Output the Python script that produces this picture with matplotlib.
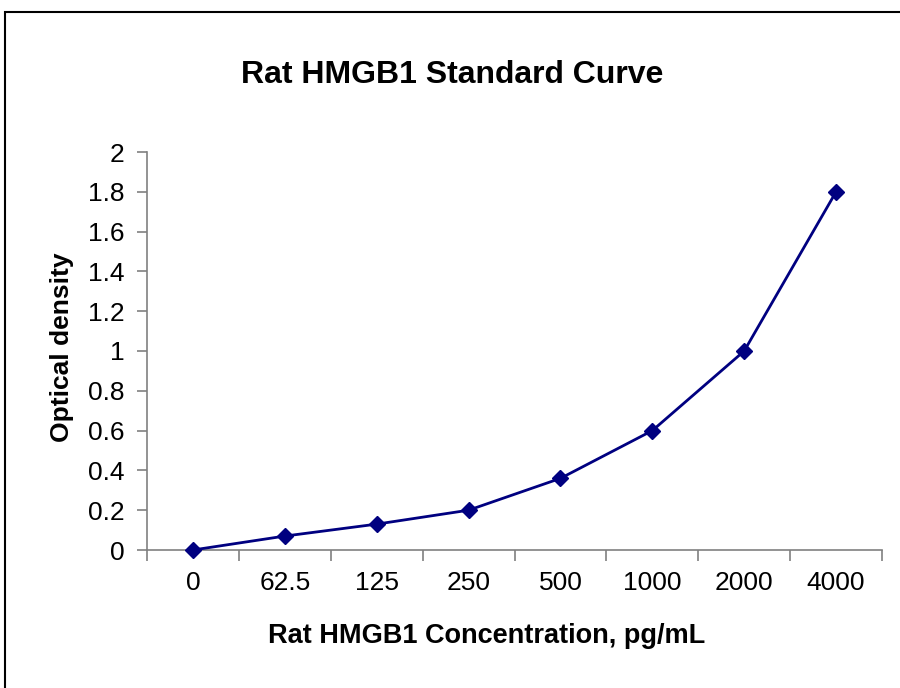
import matplotlib.pyplot as plt
from matplotlib.patches import Rectangle

plt.rcParams['font.family'] = ['Liberation Sans', 'DejaVu Sans']

# standard curve readings
concentrations = ['0', '62.5', '125', '250', '500', '1000', '2000', '4000']
optical_density = [0.0, 0.07, 0.13, 0.2, 0.36, 0.6, 1.0, 1.8]
y_ticks = [0, 0.2, 0.4, 0.6, 0.8, 1, 1.2, 1.4, 1.6, 1.8, 2]

W, H = 900, 688
fig = plt.figure(figsize=(W / 100, H / 100), dpi=100)

# outer chart border, like an Excel chart area
fig.patches.append(Rectangle(
    (5 / W, -0.01), 1.0, 1 - 12 / H + 0.01,
    transform=fig.transFigure, fill=False, edgecolor='black', lw=1.5))

ax = fig.add_axes([147 / W, 1 - 550 / H, (882 - 147) / W, (550 - 152) / H])

x = list(range(len(concentrations)))
ax.plot(x, optical_density, color='#000080', lw=2,
        marker='D', markersize=8.5, markerfacecolor='#000080',
        markeredgecolor='#000080', clip_on=False, zorder=3)

ax.set_xlim(-0.5, len(concentrations) - 0.5)
ax.set_ylim(0, 2)

# category ticks sit between categories, labels at centres
ax.set_xticks([i - 0.5 for i in range(len(concentrations) + 1)])
ax.set_xticklabels([])
ax.set_xticks(x, minor=True)
ax.set_xticklabels(concentrations, minor=True, fontsize=19)
ax.tick_params(axis='x', which='major', direction='out', length=8,
               color='#808080', width=1.2)
ax.tick_params(axis='x', which='minor', length=0, pad=15)

ax.set_yticks(y_ticks)
ax.set_yticklabels([f'{v:g}' for v in y_ticks], fontsize=19)
ax.tick_params(axis='y', direction='out', length=7, color='#808080',
               width=1.2, pad=9)

for side in ['top', 'right']:
    ax.spines[side].set_visible(False)
for side in ['left', 'bottom']:
    ax.spines[side].set_color('#808080')
    ax.spines[side].set_linewidth(1.2)

fig.text(452 / W, 1 - 75 / H, 'Rat HMGB1 Standard Curve', ha='center',
         va='center', fontsize=23, fontweight='bold')
fig.text(487 / W, 1 - 636 / H, 'Rat HMGB1 Concentration, pg/mL',
         ha='center', va='center', fontsize=19.5, fontweight='bold')
fig.text(62 / W, 1 - 347 / H, 'Optical density', ha='center', va='center',
         rotation=90, fontsize=19, fontweight='bold')

fig.savefig('out.png', dpi=100)
